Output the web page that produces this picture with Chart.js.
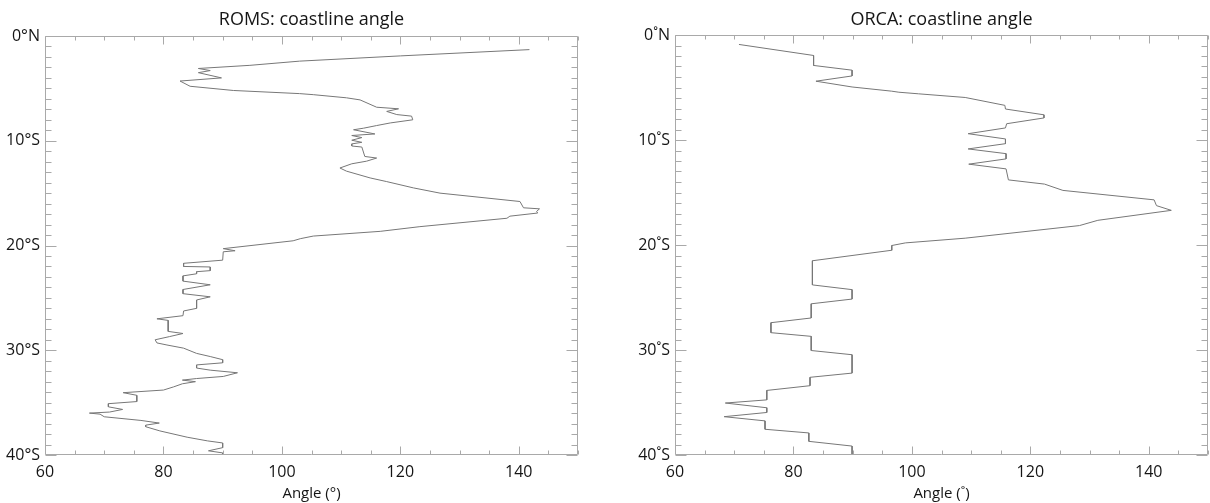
<!DOCTYPE html>
<html>
<head>
<meta charset="utf-8">
<script src="https://cdn.jsdelivr.net/npm/chart.js@4/dist/chart.umd.min.js"></script>
<style>
  html, body { margin: 0; padding: 0; background: #fff; }
  .panel { position: absolute; top: 0; width: 605px; height: 503px; }
</style>
</head>
<body>
<div class="panel" style="left:0"><canvas id="roms"></canvas></div>
<div class="panel" style="left:605px"><canvas id="orca"></canvas></div>
<script>
// ROMS coastline angle (deg) against latitude (negative = south)
const romsLat = [-1.3,-1.9,-2.4,-2.8,-3.1,-3.3,-3.5,-4.0,-4.3,-4.8,
  -5.2,-5.5,-5.6,-5.9,-6.1,-6.8,-6.95,-7.2,-7.5,-7.65,
  -8.0,-8.3,-8.55,-8.8,-8.95,-9.35,-9.5,-9.7,-9.95,-10.15,
  -10.3,-10.5,-10.6,-11.5,-11.65,-11.95,-12.2,-12.6,-12.9,-13.55,
  -13.9,-14.5,-15.0,-15.8,-16.4,-16.5,-16.75,-16.9,-17.2,-17.4,
  -18.2,-18.65,-19.1,-19.35,-19.55,-20.3,-20.5,-20.6,-21.4,-21.7,
  -22.0,-22.05,-22.4,-22.5,-22.7,-22.9,-23.4,-23.75,-24.2,-24.6,
  -24.9,-25.2,-26.0,-26.25,-26.7,-27.0,-27.15,-28.2,-28.4,-28.7,
  -29.0,-29.3,-29.5,-29.8,-30.3,-30.6,-30.9,-31.2,-31.4,-31.7,
  -31.9,-32.15,-32.5,-32.7,-32.85,-33.0,-33.2,-33.5,-33.8,-34.05,
  -34.3,-34.9,-35.1,-35.4,-35.65,-35.9,-36.0,-36.1,-36.35,-36.7,
  -36.95,-37.15,-37.3,-37.7,-38.3,-38.65,-38.85,-39.3,-39.6,-39.8,
  -40.0];
const romsAngle = [141.8,120,103,94.6,85.9,87.9,85.9,89.8,82.8,84.5,
  91.8,103,105.3,110.9,113.2,116.0,119.7,117.7,119.4,121.9,
  122.1,118.3,116.0,113.8,112.1,115.7,111.8,113.5,111.8,113.5,
  111.8,111.8,113.5,114.0,116.0,114.3,111.8,109.8,110.9,114.9,
  117.7,122.2,126.7,140.2,140.8,143.5,143.0,143.2,138.5,138.0,
  123.3,116.6,105.3,103.1,101.9,90.1,92.1,90.1,90.0,83.4,
  83.4,87.9,87.9,85.6,85.6,83.3,83.3,87.9,83.3,83.3,
  87.9,85.6,85.6,83.4,83.3,78.9,80.8,80.8,83.3,81.0,
  78.6,78.9,80.6,83.4,85.6,87.9,90.0,90.0,85.6,85.6,
  87.9,92.5,90.1,85.6,83.2,85.4,83.2,81.7,80.0,73.2,
  75.5,75.5,70.7,70.7,73.1,70.9,67.5,69.3,70.0,76.2,
  79.3,77.0,77.0,79.4,84.0,87.4,90.0,90.0,87.6,90.0,
  90.0];

// ORCA coastline angle
const orcaLat = [-0.9,-1.95,-2.9,-3.35,-3.9,-4.4,-4.95,-5.35,-5.45,-5.6,
  -5.95,-6.7,-7.05,-7.6,-7.9,-8.45,-8.85,-9.4,-9.9,-10.35,
  -10.85,-11.3,-11.8,-12.3,-12.75,-13.8,-14.2,-14.8,-15.7,-16.25,
  -16.7,-17.65,-18.15,-19.35,-19.8,-20.05,-20.5,-21.5,-23.8,-24.25,
  -25.15,-25.6,-26.95,-27.4,-28.35,-28.7,-30.05,-30.45,-32.2,-32.6,
  -33.4,-33.85,-34.75,-35.05,-35.5,-35.95,-36.35,-36.75,-37.55,-37.9,
  -38.7,-39.15,-40.0];
const orcaAngle = [70.8,83.4,83.4,89.9,89.9,83.8,89.9,96.6,97.8,101.1,
  109.0,115.7,115.8,122.3,122.3,116.0,115.8,109.5,115.8,115.8,
  109.5,115.9,115.9,109.6,115.9,116.3,122.4,125.5,140.9,141.3,
  143.8,131.4,128.3,109.0,98.9,96.6,96.6,83.2,83.2,89.9,
  89.9,83.0,83.0,76.2,76.2,83.0,83.0,89.9,89.9,82.8,
  82.8,75.5,75.5,68.5,75.5,75.5,68.3,75.2,75.2,82.6,
  82.6,89.9,89.9];

const angleTicks = [60, 80, 100, 120, 140];
const latTicks = [0, -10, -20, -30, -40];

const FONT = "'Open Sans', 'DejaVu Sans', sans-serif";
const TEXT = '#151515';
const AXIS = '#a9a9a9';

// box with inward ticks, like the IDL plot frame
const frameTicks = {
  id: 'frameTicks',
  afterDraw(chart) {
    const { ctx, chartArea: a, scales: { x, y } } = chart;
    ctx.save();
    ctx.strokeStyle = AXIS;
    ctx.lineWidth = 1;
    ctx.beginPath();
    const L = Math.round(a.left) + 0.5, R = Math.round(a.right) - 0.5;
    const T = Math.round(a.top) + 0.5, B = Math.round(a.bottom) - 0.5;
    ctx.rect(L, T, R - L, B - T);
    for (let v = x.min; v <= x.max; v += 5) {
      const px = Math.round(x.getPixelForValue(v)) + 0.5;
      const len = v % 20 === 0 ? 8 : 4;
      ctx.moveTo(px, T); ctx.lineTo(px, T + len);
      ctx.moveTo(px, B); ctx.lineTo(px, B - len);
    }
    for (let v = y.max; v >= y.min; v -= 1) {
      const py = Math.round(y.getPixelForValue(v)) + 0.5;
      const len = v % 10 === 0 ? 11 : 6;
      ctx.moveTo(L, py); ctx.lineTo(L + len, py);
      ctx.moveTo(R, py); ctx.lineTo(R - len, py);
    }
    ctx.stroke();
    ctx.restore();
  }
};

const panelTitle = {
  id: 'panelTitle',
  afterDraw(chart, args, opts) {
    const { ctx, chartArea: a } = chart;
    ctx.save();
    ctx.font = '18px ' + FONT;
    ctx.fillStyle = TEXT;
    ctx.textAlign = 'center';
    ctx.textBaseline = 'middle';
    ctx.fillText(opts.text, (a.left + a.right) / 2, opts.y);
    ctx.restore();
  }
};

function makePanel(id, title, angles, lats, deg, yWidth, padRight, padTop) {
  const points = angles.map((v, i) => ({ x: v, y: lats[i] }));
  return new Chart(document.getElementById(id), {
    type: 'scatter',
    data: {
      datasets: [{
        data: points,
        showLine: true,
        borderColor: '#777777',
        borderWidth: 1,
        pointRadius: 0,
        tension: 0
      }]
    },
    options: {
      responsive: true,
      maintainAspectRatio: false,
      animation: false,
      layout: { padding: { top: padTop, right: padRight, left: 0, bottom: 0 } },
      plugins: {
        legend: { display: false },
        tooltip: { enabled: false },
        panelTitle: { text: title, y: 20 }
      },
      scales: {
        x: {
          type: 'linear',
          min: 60, max: 150,
          grid: { display: false, drawTicks: false },
          border: { display: false },
          afterBuildTicks: s => { s.ticks = angleTicks.map(v => ({ value: v })); },
          afterFit: s => { s.height = 48; },
          ticks: { font: { family: FONT, size: 16 }, color: TEXT, padding: 8, maxRotation: 0 },
          title: { display: true, text: 'Angle (' + deg + ')', font: { family: FONT, size: 15 }, color: TEXT, padding: 0 }
        },
        y: {
          type: 'linear',
          min: -40, max: 0,
          grid: { display: false, drawTicks: false },
          border: { display: false },
          afterBuildTicks: s => { s.ticks = latTicks.map(v => ({ value: v })); },
          afterFit: s => { s.width = yWidth; },
          ticks: {
            font: { family: FONT, size: 16 }, color: TEXT, padding: 5,
            callback: v => v === 0 ? '0' + deg + 'N' : (-v) + deg + 'S'
          }
        }
      }
    },
    plugins: [frameTicks, panelTitle]
  });
}

makePanel('roms', 'ROMS: coastline angle', romsAngle, romsLat, '°', 45, 27, 36);
makePanel('orca', 'ORCA: coastline angle', orcaAngle, orcaLat, '˚', 70, 2, 35);
</script>
</body>
</html>
